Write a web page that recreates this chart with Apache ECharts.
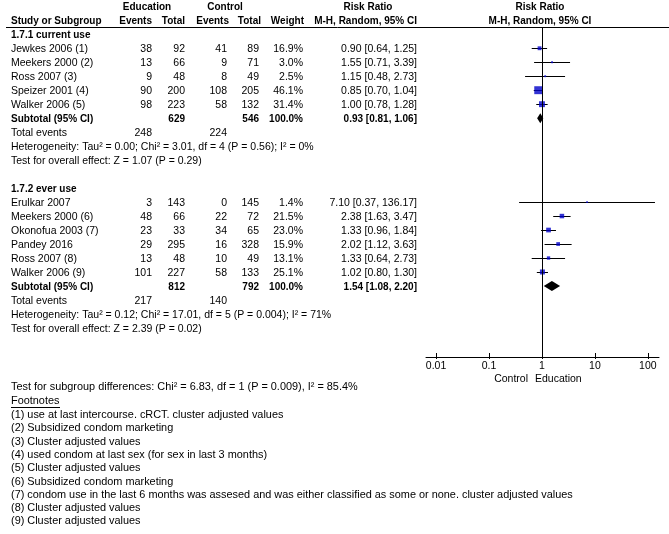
<!DOCTYPE html>
<html><head><meta charset="utf-8">
<script src="https://cdn.jsdelivr.net/npm/echarts@6/dist/echarts.min.js"></script>
<style>html,body{margin:0;padding:0;background:#fff}#c{width:669px;height:534px}</style>
</head><body><div id="c"></div>
<script>
// ---------------- data ----------------
const groupNames = ['1.7.1 current use', '1.7.2 ever use'];

const studies1 = ['Jewkes 2006 (1)', 'Meekers 2000 (2)', 'Ross 2007 (3)', 'Speizer 2001 (4)', 'Walker 2006 (5)'];
const eduEvents1 = [38, 13, 9, 90, 98];
const eduTotal1 = [92, 66, 48, 200, 223];
const ctrlEvents1 = [41, 9, 8, 108, 58];
const ctrlTotal1 = [89, 71, 49, 205, 132];
const weight1 = [16.9, 3.0, 2.5, 46.1, 31.4];
const rr1 = [0.90, 1.55, 1.15, 0.85, 1.00];
const lo1 = [0.64, 0.71, 0.48, 0.70, 0.78];
const hi1 = [1.25, 3.39, 2.73, 1.04, 1.28];
const subTotals1 = [629, 546, 100.0];
const subRR1 = [0.93, 0.81, 1.06];
const totalEvents1 = [248, 224];

const studies2 = ['Erulkar 2007', 'Meekers 2000 (6)', 'Okonofua 2003 (7)', 'Pandey 2016', 'Ross 2007 (8)', 'Walker 2006 (9)'];
const eduEvents2 = [3, 48, 23, 29, 13, 101];
const eduTotal2 = [143, 66, 33, 295, 48, 227];
const ctrlEvents2 = [0, 22, 34, 16, 10, 58];
const ctrlTotal2 = [145, 72, 65, 328, 49, 133];
const weight2 = [1.4, 21.5, 23.0, 15.9, 13.1, 25.1];
const rr2 = [7.10, 2.38, 1.33, 2.02, 1.33, 1.02];
const lo2 = [0.37, 1.63, 0.96, 1.12, 0.64, 0.80];
const hi2 = [136.17, 3.47, 1.84, 3.63, 2.73, 1.30];
const subTotals2 = [812, 792, 100.0];
const subRR2 = [1.54, 1.08, 2.20];
const totalEvents2 = [217, 140];

const heterogeneity = [
  'Heterogeneity: Tau\u00b2 = 0.00; Chi\u00b2 = 3.01, df = 4 (P = 0.56); I\u00b2 = 0%',
  'Heterogeneity: Tau\u00b2 = 0.12; Chi\u00b2 = 17.01, df = 5 (P = 0.004); I\u00b2 = 71%'
];
const overallEffect = [
  'Test for overall effect: Z = 1.07 (P = 0.29)',
  'Test for overall effect: Z = 2.39 (P = 0.02)'
];
const subgroupTest = 'Test for subgroup differences: Chi\u00b2 = 6.83, df = 1 (P = 0.009), I\u00b2 = 85.4%';
const footnotes = [
  '(1) use at last intercourse. cRCT. cluster adjusted values',
  '(2) Subsidized condom marketing',
  '(3) Cluster adjusted values',
  '(4) used condom at last sex (for sex in last 3 months)',
  '(5) Cluster adjusted values',
  '(6) Subsidized condom marketing',
  '(7) condom use in the last 6 months was assesed and was either classified as some or none. cluster adjusted values',
  '(8) Cluster adjusted values',
  '(9) Cluster adjusted values'
];
const tickValues = [0.01, 0.1, 1, 10, 100];
const tickLabels = ['0.01', '0.1', '1', '10', '100'];
const favourLabels = ['Control', 'Education'];

// ---------------- layout ----------------
const FONT = "'Liberation Sans', Arial, Helvetica, sans-serif";
const ROW_MIN = -0.52, ROW_MAX = 23.08;
const GRID_TOP = 27, GRID_BOTTOM = 177;
const COL = { label: 11, eduEv: 152, eduTot: 185, ctrlEv: 227, ctrlTot: 259, weight: 303, rr: 417 };
const FS = 10.5, FSB = 10, FSN = 10.9;

function fmtRR(a, b, c) { return a.toFixed(2) + ' [' + b.toFixed(2) + ', ' + c.toFixed(2) + ']'; }

const tableRows = [];
const forestPts = [];
const diamonds = [];
let r = 0;
function addGroup(g, studies, ee, et, ce, ct, w, rr, lo, hi, sub, subRR, tot) {
  tableRows.push({ row: r++, bold: true, label: groupNames[g], cells: [] });
  for (let i = 0; i < studies.length; i++) {
    tableRows.push({ row: r, bold: false, label: studies[i],
      cells: [ee[i], et[i], ce[i], ct[i], w[i].toFixed(1) + '%', fmtRR(rr[i], lo[i], hi[i])] });
    forestPts.push({ row: r, rr: rr[i], lo: lo[i], hi: hi[i], w: w[i] });
    r++;
  }
  tableRows.push({ row: r, bold: true, label: 'Subtotal (95% CI)',
    cells: ['', sub[0], '', sub[1], sub[2].toFixed(1) + '%', fmtRR(subRR[0], subRR[1], subRR[2])] });
  diamonds.push({ row: r, rr: subRR[0], lo: subRR[1], hi: subRR[2] });
  r++;
  tableRows.push({ row: r++, bold: false, label: 'Total events', cells: [tot[0], '', tot[1], '', '', ''] });
  tableRows.push({ row: r++, bold: false, label: heterogeneity[g], cells: [] });
  tableRows.push({ row: r++, bold: false, label: overallEffect[g], cells: [] });
  r++;
}
addGroup(0, studies1, eduEvents1, eduTotal1, ctrlEvents1, ctrlTotal1, weight1, rr1, lo1, hi1, subTotals1, subRR1, totalEvents1);
addGroup(1, studies2, eduEvents2, eduTotal2, ctrlEvents2, ctrlTotal2, weight2, rr2, lo2, hi2, subTotals2, subRR2, totalEvents2);

const colKeys = ['eduEv', 'eduTot', 'ctrlEv', 'ctrlTot', 'weight', 'rr'];

function txt(text, x, y, align, bold, size) {
  return { type: 'text', style: { text: String(text), x: x, y: y, align: align, verticalAlign: 'middle',
    fontFamily: FONT, fontSize: size || (bold ? FSB : FS), fontWeight: bold ? 'bold' : 'normal', fill: '#000' } };
}

const chart = echarts.init(document.getElementById('c'), null, { renderer: 'canvas' });

const graphics = [
  { type: 'line', shape: { x1: 6, y1: 27.5, x2: 669, y2: 27.5 }, style: { stroke: '#000', lineWidth: 1 } },
  txt('Education', 147, 7, 'center', true),
  txt('Control', 225, 7, 'center', true),
  txt('Risk Ratio', 368, 7, 'center', true),
  txt('Risk Ratio', 540, 7, 'center', true),
  txt('Study or Subgroup', COL.label, 21, 'left', true),
  txt('Events', COL.eduEv, 21, 'right', true),
  txt('Total', COL.eduTot, 21, 'right', true),
  txt('Events', COL.ctrlEv + 2, 21, 'right', true),
  txt('Total', COL.ctrlTot + 2, 21, 'right', true),
  txt('Weight', COL.weight + 1, 21, 'right', true),
  txt('M-H, Random, 95% CI', COL.rr, 21, 'right', true),
  txt('M-H, Random, 95% CI', 540, 21, 'center', true),
  txt(favourLabels[0], 528, 379, 'right', false),
  txt(favourLabels[1], 535, 379, 'left', false),
  txt(subgroupTest, COL.label, 386.5, 'left', false, FSN),
  txt('Footnotes', COL.label, 401, 'left', false, FSN),
  { type: 'line', shape: { x1: COL.label, y1: 407.5, x2: COL.label + 49, y2: 407.5 }, style: { stroke: '#000', lineWidth: 1 } },
  // small downward extensions of the axis ticks (crossing tick marks)
];
footnotes.forEach(function (f, i) { graphics.push(txt(f, COL.label, 415 + i * 13.3, 'left', false, FSN)); });

const option = {
  animation: false,
  backgroundColor: '#fff',
  graphic: { elements: graphics },
  grid: [
    { left: 0, right: 0, top: GRID_TOP, bottom: GRID_BOTTOM, containLabel: false, outerBoundsMode: 'none' },
    { left: 426, right: 10, top: GRID_TOP, bottom: GRID_BOTTOM, containLabel: false, outerBoundsMode: 'none' }
  ],
  xAxis: [
    { type: 'value', gridIndex: 0, min: 0, max: 669, show: false },
    { type: 'value', gridIndex: 1, min: -2.19, max: 2.21, position: 'bottom',
      axisLine: { show: true, onZero: false, lineStyle: { color: '#000', width: 1 } },
      axisTick: { show: true, inside: true, length: 4, customValues: tickValues.map(Math.log10), lineStyle: { color: '#000', width: 1 } },
      axisLabel: { show: true, customValues: tickValues.map(Math.log10), color: '#000', fontSize: FS, fontFamily: FONT, margin: 4,
        formatter: function (v) {
          let best = 0;
          tickValues.forEach(function (t, i) { if (Math.abs(Math.log10(t) - v) < Math.abs(Math.log10(tickValues[best]) - v)) best = i; });
          return tickLabels[best];
        } },
      splitLine: { show: false } },
    { type: 'value', gridIndex: 1, min: -2.19, max: 2.21, position: 'bottom',
      axisLine: { show: false, onZero: false },
      axisTick: { show: true, inside: false, length: 2, customValues: tickValues.map(Math.log10), lineStyle: { color: '#000', width: 1 } },
      axisLabel: { show: false }, splitLine: { show: false } }
  ],
  yAxis: [
    { type: 'value', gridIndex: 0, min: ROW_MIN, max: ROW_MAX, inverse: true, show: false },
    { type: 'value', gridIndex: 1, min: ROW_MIN, max: ROW_MAX, inverse: true, show: false }
  ],
  series: [
    {
      type: 'custom', name: 'table', xAxisIndex: 0, yAxisIndex: 0, silent: true,
      data: tableRows.map(function (t) { return [0, t.row]; }),
      renderItem: function (params, api) {
        const t = tableRows[params.dataIndex];
        const y = api.coord([0, api.value(1)])[1] + 1;
        const kids = [txt(t.label, api.coord([COL.label, 0])[0], y, 'left', t.bold)];
        t.cells.forEach(function (c, i) {
          if (c === '') return;
          kids.push(txt(c, api.coord([COL[colKeys[i]], 0])[0], y, 'right', t.bold));
        });
        return { type: 'group', children: kids };
      }
    },
    {
      type: 'line', name: 'noeffect', xAxisIndex: 1, yAxisIndex: 1, data: [], z: 1,
      markLine: { silent: true, symbol: 'none', animation: false, label: { show: false },
        lineStyle: { color: '#000', width: 1, type: 'solid' }, data: [{ xAxis: Math.log10(1) }] }
    },
    {
      type: 'custom', name: 'ci', xAxisIndex: 1, yAxisIndex: 1, silent: true, z: 2,
      data: forestPts.map(function (p) { return [Math.log10(p.lo), Math.log10(p.hi), p.row]; }),
      renderItem: function (params, api) {
        const a = api.coord([api.value(0), api.value(2)]);
        const b = api.coord([api.value(1), api.value(2)]);
        const y = Math.round(a[1]) + 0.5;
        return { type: 'line', shape: { x1: a[0], y1: y, x2: b[0], y2: y }, style: { stroke: '#000', lineWidth: 1 } };
      }
    },
    {
      type: 'scatter', name: 'studies', xAxisIndex: 1, yAxisIndex: 1, silent: true, z: 3,
      symbol: 'rect',
      data: forestPts.map(function (p) { return [Math.log10(p.rr), p.row, p.w]; }),
      symbolSize: function (v) { return 1.5 + 0.14 * v[2]; },
      itemStyle: { color: '#0000c8' }
    },
    {
      type: 'custom', name: 'subtotals', xAxisIndex: 1, yAxisIndex: 1, silent: true, z: 3,
      data: diamonds.map(function (d) { return [Math.log10(d.rr), Math.log10(d.lo), Math.log10(d.hi), d.row]; }),
      renderItem: function (params, api) {
        const c = api.coord([api.value(0), api.value(3)]);
        const l = api.coord([api.value(1), api.value(3)]);
        const h = api.coord([api.value(2), api.value(3)]);
        return { type: 'polygon', shape: { points: [[l[0], c[1]], [c[0], c[1] - 5], [h[0], c[1]], [c[0], c[1] + 5]] },
          style: { fill: '#000' } };
      }
    }
  ]
};
chart.setOption(option);
</script></body></html>
